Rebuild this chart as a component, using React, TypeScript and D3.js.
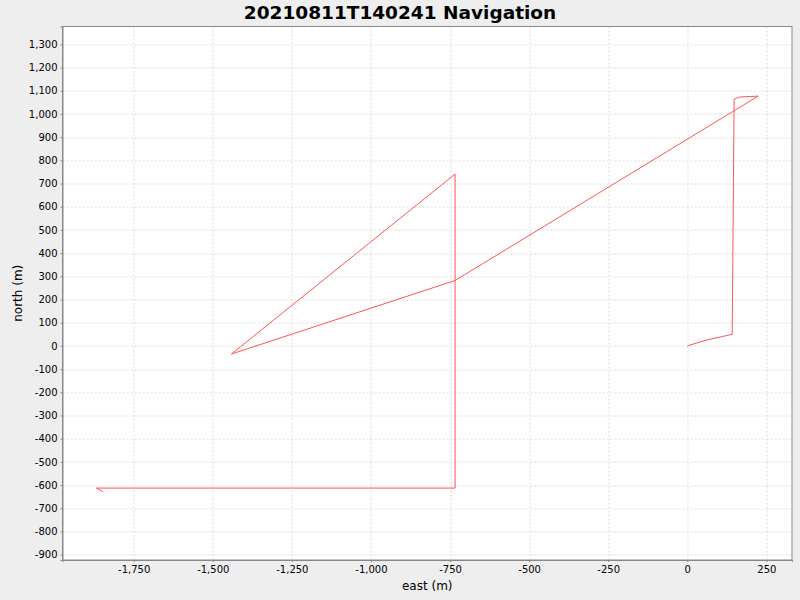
import React, { useEffect, useRef } from 'react';
import * as d3 from 'd3';

const title = '20210811T140241 Navigation';
const xLabel = 'east (m)';
const yLabel = 'north (m)';

const eastValues = [0, 60, 142, 148, 166, 224, -734, -1441, -734, -734, -1868, -1847];
const northValues = [0, 25, 50, 1064, 1073, 1077, 282, -35, 741, -613, -613, -629];

const xTicks = [-1750, -1500, -1250, -1000, -750, -500, -250, 0, 250];
const yTicks = d3.range(-900, 1301, 100);

export default function App() {
  const ref = useRef<HTMLDivElement>(null);

  useEffect(() => {
    const W = 800;
    const H = 600;
    const margin = { top: 26.5, right: 8, bottom: 40, left: 62.5 };
    const width = W - margin.left - margin.right;
    const height = H - margin.top - margin.bottom;

    const fmt = (d: d3.NumberValue) => d3.format(',')(d).replace('\u2212', '-');

    const root = d3
      .select(ref.current)
      .append('svg')
      .attr('width', W)
      .attr('height', H)
      .style('display', 'block')
      .style('font-family', '"DejaVu Sans", sans-serif');

    root.append('rect').attr('width', W).attr('height', H).attr('fill', '#eeeeee');

    root
      .append('text')
      .attr('x', W / 2)
      .attr('y', 19)
      .attr('text-anchor', 'middle')
      .attr('font-size', 18.5)
      .attr('font-weight', 'bold')
      .text(title);

    const svg = root.append('g').attr('transform', `translate(${margin.left},${margin.top})`);

    const x = d3.scaleLinear().domain([-1975, 331]).range([0, width]);
    const y = d3.scaleLinear().domain([-923, 1377]).range([height, 0]);

    svg.append('rect').attr('width', width).attr('height', height).attr('fill', '#ffffff');

    // grid
    svg
      .selectAll('.gx')
      .data(xTicks)
      .enter()
      .append('line')
      .attr('x1', (d) => Math.round(x(d)) + 0.5)
      .attr('x2', (d) => Math.round(x(d)) + 0.5)
      .attr('y1', 0)
      .attr('y2', height)
      .attr('stroke', '#dcdcdc')
      .attr('stroke-dasharray', '2,2');

    svg
      .selectAll('.gy')
      .data(yTicks)
      .enter()
      .append('line')
      .attr('y1', (d) => Math.round(y(d)) + 0.5)
      .attr('y2', (d) => Math.round(y(d)) + 0.5)
      .attr('x1', 0)
      .attr('x2', width)
      .attr('stroke', '#dcdcdc')
      .attr('stroke-dasharray', '2,2');

    // track
    const pts: [number, number][] = eastValues.map((e, i) => [e, northValues[i]]);
    const line = d3
      .line<[number, number]>()
      .x((d) => x(d[0]))
      .y((d) => y(d[1]));

    svg
      .append('path')
      .datum(pts)
      .attr('fill', 'none')
      .attr('stroke', '#ff5555')
      .attr('stroke-width', 1)
      .attr('d', line);

    // border
    svg
      .append('rect')
      .attr('width', width)
      .attr('height', height)
      .attr('fill', 'none')
      .attr('stroke', '#888888');

    const xAxis = d3.axisBottom(x).tickValues(xTicks).tickSize(2).tickPadding(4).tickFormat(fmt);
    const yAxis = d3.axisLeft(y).tickValues(yTicks).tickSize(2).tickPadding(3).tickFormat(fmt);

    const gx = svg.append('g').attr('transform', `translate(0,${height})`).call(xAxis);
    const gy = svg.append('g').call(yAxis);

    [gx, gy].forEach((g) => {
      g.select('.domain').attr('stroke', '#888888');
      g.selectAll('.tick line').attr('stroke', '#888888');
      g.selectAll('.tick text')
        .attr('fill', '#000')
        .attr('font-size', 10)
        .attr('font-family', '"DejaVu Sans", sans-serif');
    });

    root
      .append('text')
      .attr('x', margin.left + width / 2)
      .attr('y', 590)
      .attr('text-anchor', 'middle')
      .attr('font-size', 12)
      .text(xLabel);

    root
      .append('text')
      .attr('transform', `translate(22,${margin.top + height / 2}) rotate(-90)`)
      .attr('text-anchor', 'middle')
      .attr('font-size', 12)
      .text(yLabel);

    return () => {
      d3.select(ref.current).select('svg').remove();
    };
  }, []);

  return <div ref={ref} style={{ position: 'absolute', left: 0, top: 0 }}></div>;
}
